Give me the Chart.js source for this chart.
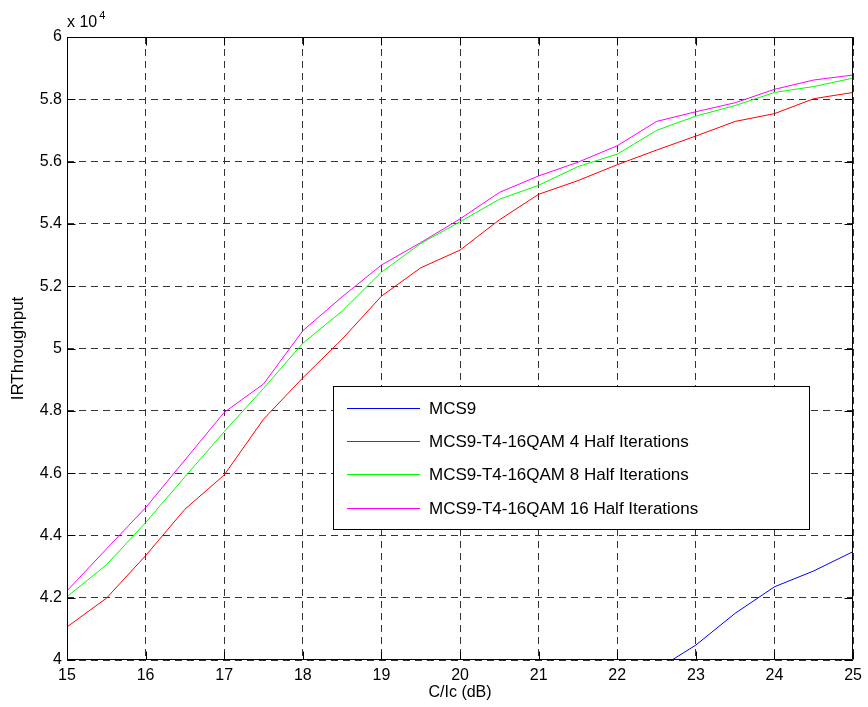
<!DOCTYPE html>
<html><head><meta charset="utf-8">
<script src="https://cdn.jsdelivr.net/npm/chart.js@4"></script>
<style>html,body{margin:0;padding:0;background:#fff;}canvas{display:block}</style>
</head><body>
<canvas id="c" width="868" height="707"></canvas>
<script>
// ---- data (throughput in units of 10^4) ----
const snrDb = [15,15.5,16,16.5,17,17.5,18,18.5,19,19.5,20,20.5,21,21.5,22,22.5,23,23.5,24,24.5,25];
const xTickValues = [15,16,17,18,19,20,21,22,23,24,25];
const yTickValues = [4,4.2,4.4,4.6,4.8,5,5.2,5.4,5.6,5.8,6];
const mcs9 = [null,null,null,null,null,null,null,null,null,null,null,null,null,null,null,3.969,4.048,4.150,4.235,4.286,4.348];
const half4 = [4.106,4.198,4.335,4.484,4.594,4.773,4.906,5.030,5.168,5.259,5.316,5.413,5.495,5.539,5.590,5.637,5.682,5.729,5.754,5.802,5.822];
const half8 = [4.203,4.305,4.441,4.588,4.733,4.872,5.017,5.120,5.245,5.337,5.407,5.479,5.524,5.584,5.624,5.700,5.746,5.780,5.822,5.841,5.868];
const half16 = [4.222,4.356,4.489,4.642,4.795,4.886,5.057,5.166,5.268,5.340,5.416,5.501,5.554,5.598,5.651,5.729,5.760,5.789,5.832,5.862,5.878];
const seriesNames = ['MCS9','MCS9-T4-16QAM 4 Half Iterations','MCS9-T4-16QAM 8 Half Iterations','MCS9-T4-16QAM 16 Half Iterations'];
const seriesColors = ['#0000ff','#ff0000','#00ff00','#ff00ff'];
const seriesValues = [mcs9, half4, half8, half16];

const FONT = '"Liberation Sans", Arial, Helvetica, sans-serif';

const datasets = seriesValues.map((vals, i) => ({
  label: seriesNames[i],
  data: snrDb.map((x, j) => ({x: x, y: vals[j]})),
  borderColor: seriesColors[i],
  backgroundColor: seriesColors[i],
  borderWidth: 1,
  pointRadius: 0,
  tension: 0,
  spanGaps: false,
  fill: false
}));

const framePlugin = {
  id: 'frame',
  afterDatasetsDraw(chart) {
    const {ctx, chartArea: a, scales} = chart;
    ctx.save();
    ctx.strokeStyle = '#000';
    ctx.lineWidth = 1;
    const L = Math.round(a.left) + 0.5, R = Math.round(a.right) - 0.5;
    const T = Math.round(a.top) + 0.5, B = Math.round(a.bottom) - 0.5;
    ctx.beginPath();
    ctx.rect(L, T, R - L, B - T);
    ctx.stroke();
    const tl = 8;
    ctx.beginPath();
    xTickValues.forEach(v => {
      const px = Math.round(scales.x.getPixelForValue(v)) + 0.5;
      ctx.moveTo(px, B); ctx.lineTo(px, B - tl);
      ctx.moveTo(px, T); ctx.lineTo(px, T + tl);
    });
    yTickValues.forEach(v => {
      const py = Math.round(scales.y.getPixelForValue(v)) + 0.5;
      ctx.moveTo(L, py); ctx.lineTo(L + tl, py);
      ctx.moveTo(R, py); ctx.lineTo(R - tl, py);
    });
    ctx.stroke();
    // exponent label
    ctx.fillStyle = '#000';
    ctx.textBaseline = 'alphabetic';
    ctx.textAlign = 'left';
    ctx.font = '16px ' + FONT;
    ctx.fillText('x 10', a.left, 27);
    const w = ctx.measureText('x 10').width;
    ctx.font = '11px ' + FONT;
    ctx.fillText('4', a.left + w + 2, 19);
    ctx.restore();
  },
  afterDraw(chart) {
    const {ctx} = chart;
    ctx.save();
    const bx = 333.5, by = 386.5, bw = 476, bh = 143;
    ctx.fillStyle = '#fff';
    ctx.fillRect(bx, by, bw, bh);
    ctx.strokeStyle = '#000';
    ctx.lineWidth = 1;
    ctx.strokeRect(bx, by, bw, bh);
    const rowY = [408.5, 441.5, 474.5, 508.5];
    ctx.font = '17px ' + FONT;
    ctx.textBaseline = 'middle';
    ctx.textAlign = 'left';
    chart.data.datasets.forEach((ds, i) => {
      ctx.strokeStyle = ds.borderColor;
      ctx.beginPath();
      ctx.moveTo(347, rowY[i]);
      ctx.lineTo(420, rowY[i]);
      ctx.stroke();
      ctx.fillStyle = '#000';
      ctx.fillText(ds.label, 429, rowY[i] + 1);
    });
    ctx.restore();
  }
};

new Chart(document.getElementById('c'), {
  type: 'line',
  data: {datasets: datasets},
  options: {
    responsive: false,
    animation: false,
    devicePixelRatio: 1,
    layout: {padding: {left: 0, top: 37, right: 11, bottom: 0}},
    plugins: {legend: {display: false}, tooltip: {enabled: false}},
    scales: {
      x: {
        type: 'linear', min: 15, max: 25,
        afterBuildTicks: s => { s.ticks = xTickValues.map(v => ({value: v})); },
        afterFit: s => { s.height = 47; },
        grid: {color: '#333', lineWidth: 1, drawTicks: false},
        border: {display: false, dash: [7, 5]},
        ticks: {color: '#000', font: {family: FONT, size: 16}, padding: 6, autoSkip: false, maxRotation: 0,
          callback: v => String(v)},
        title: {display: true, text: 'C/Ic (dB)', color: '#000', font: {family: FONT, size: 16}, padding: {top: 0, bottom: 5}}
      },
      y: {
        type: 'linear', min: 4, max: 6,
        afterBuildTicks: s => { s.ticks = yTickValues.map(v => ({value: v})); },
        afterFit: s => { s.width = 67; },
        grid: {color: '#333', lineWidth: 1, drawTicks: false},
        border: {display: false, dash: [7, 5]},
        ticks: {color: '#000', font: {family: FONT, size: 16}, padding: 5, autoSkip: false,
          callback: v => String(Number(v.toFixed(1)))},
        title: {display: true, text: 'IRThroughput', color: '#000', font: {family: FONT, size: 17}, padding: {top: 8, bottom: 0}}
      }
    }
  },
  plugins: [framePlugin]
});
</script>
</body></html>
